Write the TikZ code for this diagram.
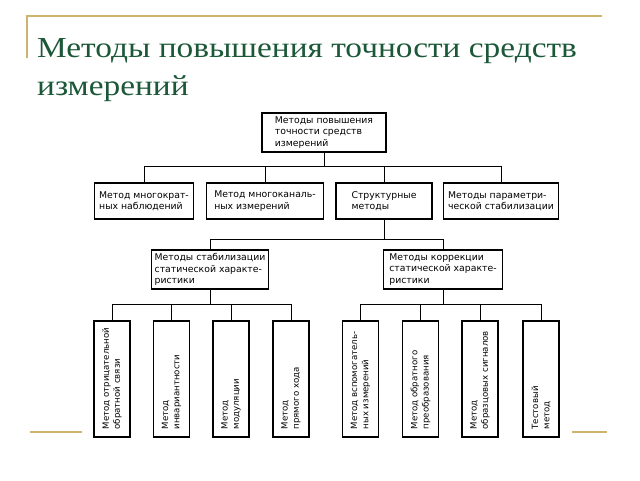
\documentclass[tikz,border=0pt]{standalone}
\usepackage{fontspec}
\setmainfont{Liberation Serif}
\newfontfamily\titlefont[FakeStretch=1.15]{Liberation Serif}
\newfontfamily\diafont{DejaVu Sans}
\usetikzlibrary{calc}
\definecolor{titlegreen}{RGB}{28,88,56}
\definecolor{gold}{RGB}{204,180,108}
\tikzset{
  box/.style={draw=black, line width=1.1pt, rectangle, inner sep=0pt, align=left,
    font=\diafont\fontsize{9.3}{11.4}\selectfont},
  vbox/.style={draw=black, line width=1.1pt, rectangle, inner sep=0pt,
    minimum width=36pt, minimum height=116pt},
  vtext/.style={rotate=90, anchor=west, align=left, inner sep=0pt,
    font=\diafont\fontsize{8.6}{11.2}\selectfont},
  conn/.style={draw=black, line width=0.8pt},
  goldline/.style={draw=gold, line width=1.4pt},
  titletext/.style={anchor=base west, inner sep=0pt, text=titlegreen,
    font=\titlefont\fontsize{29}{34}\selectfont}
}
\begin{document}
\begin{tikzpicture}[x=1pt, y=-1pt]
\useasboundingbox (0,0) rectangle (640,480);
\fill[white] (0,0) rectangle (640,480);
% decorative gold lines
\coordinate (g1) at (27,16);
\coordinate (g2) at (602,16);
\coordinate (g3) at (27,58);
\draw[goldline] (g3) -- (g1) -- (g2);
\coordinate (g4) at (30,432);
\coordinate (g5) at (82,432);
\coordinate (g6) at (572,432);
\coordinate (g7) at (607,432);
\draw[goldline] (g4) -- (g5);
\draw[goldline] (g6) -- (g7);
% title
\node[titletext] (t1) at (37,57) {Методы повышения точности средств};
\node[titletext] (t2) at (37,95) {измерений};
% root
\node[box, minimum width=124pt, minimum height=39pt] (root) at (324,132.5)
  {Методы повышения\\точности средств\\измерений};
% row 2
\node[box, minimum width=99pt, minimum height=36pt] (a1) at (144,201)
  {Метод многократ-\\ных наблюдений};
\node[box, minimum width=117pt, minimum height=36pt] (a2) at (265,201)
  {Метод многоканаль-\\ных измерений};
\node[box, minimum width=96pt, minimum height=36pt] (a3) at (384,201)
  {Структурные\\методы};
\node[box, minimum width=115pt, minimum height=36pt] (a4) at (501,201)
  {Методы параметри-\\ческой стабилизации};
% row 3
\node[box, minimum width=117pt, minimum height=39pt] (s1) at (210,269.5)
  {Методы стабилизации\\статической характе-\\ристики};
\node[box, minimum width=119pt, minimum height=39pt] (s2) at (443,269.5)
  {Методы коррекции\\статической характе-\\ристики};
% bottom boxes
\node[vbox] (b1) at (112,379) {};
\node[vbox] (b2) at (171.5,379) {};
\node[vbox] (b3) at (231,379) {};
\node[vbox] (b4) at (291,379) {};
\node[vbox] (b5) at (360.5,379) {};
\node[vbox] (b6) at (420.5,379) {};
\node[vbox] (b7) at (480,379) {};
\node[vbox] (b8) at (541,379) {};
\node[vtext] (l1) at ($(b1.south)+(0,-8)$) {Метод отрицательной\\обратной связи};
\node[vtext] (l2) at ($(b2.south)+(0,-8)$) {Метод\\инвариантности};
\node[vtext] (l3) at ($(b3.south)+(0,-8)$) {Метод\\модуляции};
\node[vtext] (l4) at ($(b4.south)+(0,-8)$) {Метод\\прямого хода};
\node[vtext] (l5) at ($(b5.south)+(0,-8)$) {Метод вспомогатель-\\ных измерений};
\node[vtext] (l6) at ($(b6.south)+(0,-8)$) {Метод обратного\\преобразования};
\node[vtext] (l7) at ($(b7.south)+(0,-8)$) {Метод\\образцовых сигналов};
\node[vtext] (l8) at ($(b8.south)+(0,-8)$) {Тестовый\\метод};
% connectors
\foreach \c in {a1,a2,a3,a4}
  \draw[conn] (root.south) |- ([yshift=16pt]\c.north) -- (\c.north);
\foreach \c in {s1,s2}
  \draw[conn] (a3.south) |- ([yshift=10pt]\c.north) -- (\c.north);
\foreach \c in {b1,b2,b3,b4}
  \draw[conn] (s1.south) |- ([yshift=16pt]\c.north) -- (\c.north);
\foreach \c in {b5,b6,b7,b8}
  \draw[conn] (s2.south) |- ([yshift=16pt]\c.north) -- (\c.north);
\end{tikzpicture}
\end{document}
